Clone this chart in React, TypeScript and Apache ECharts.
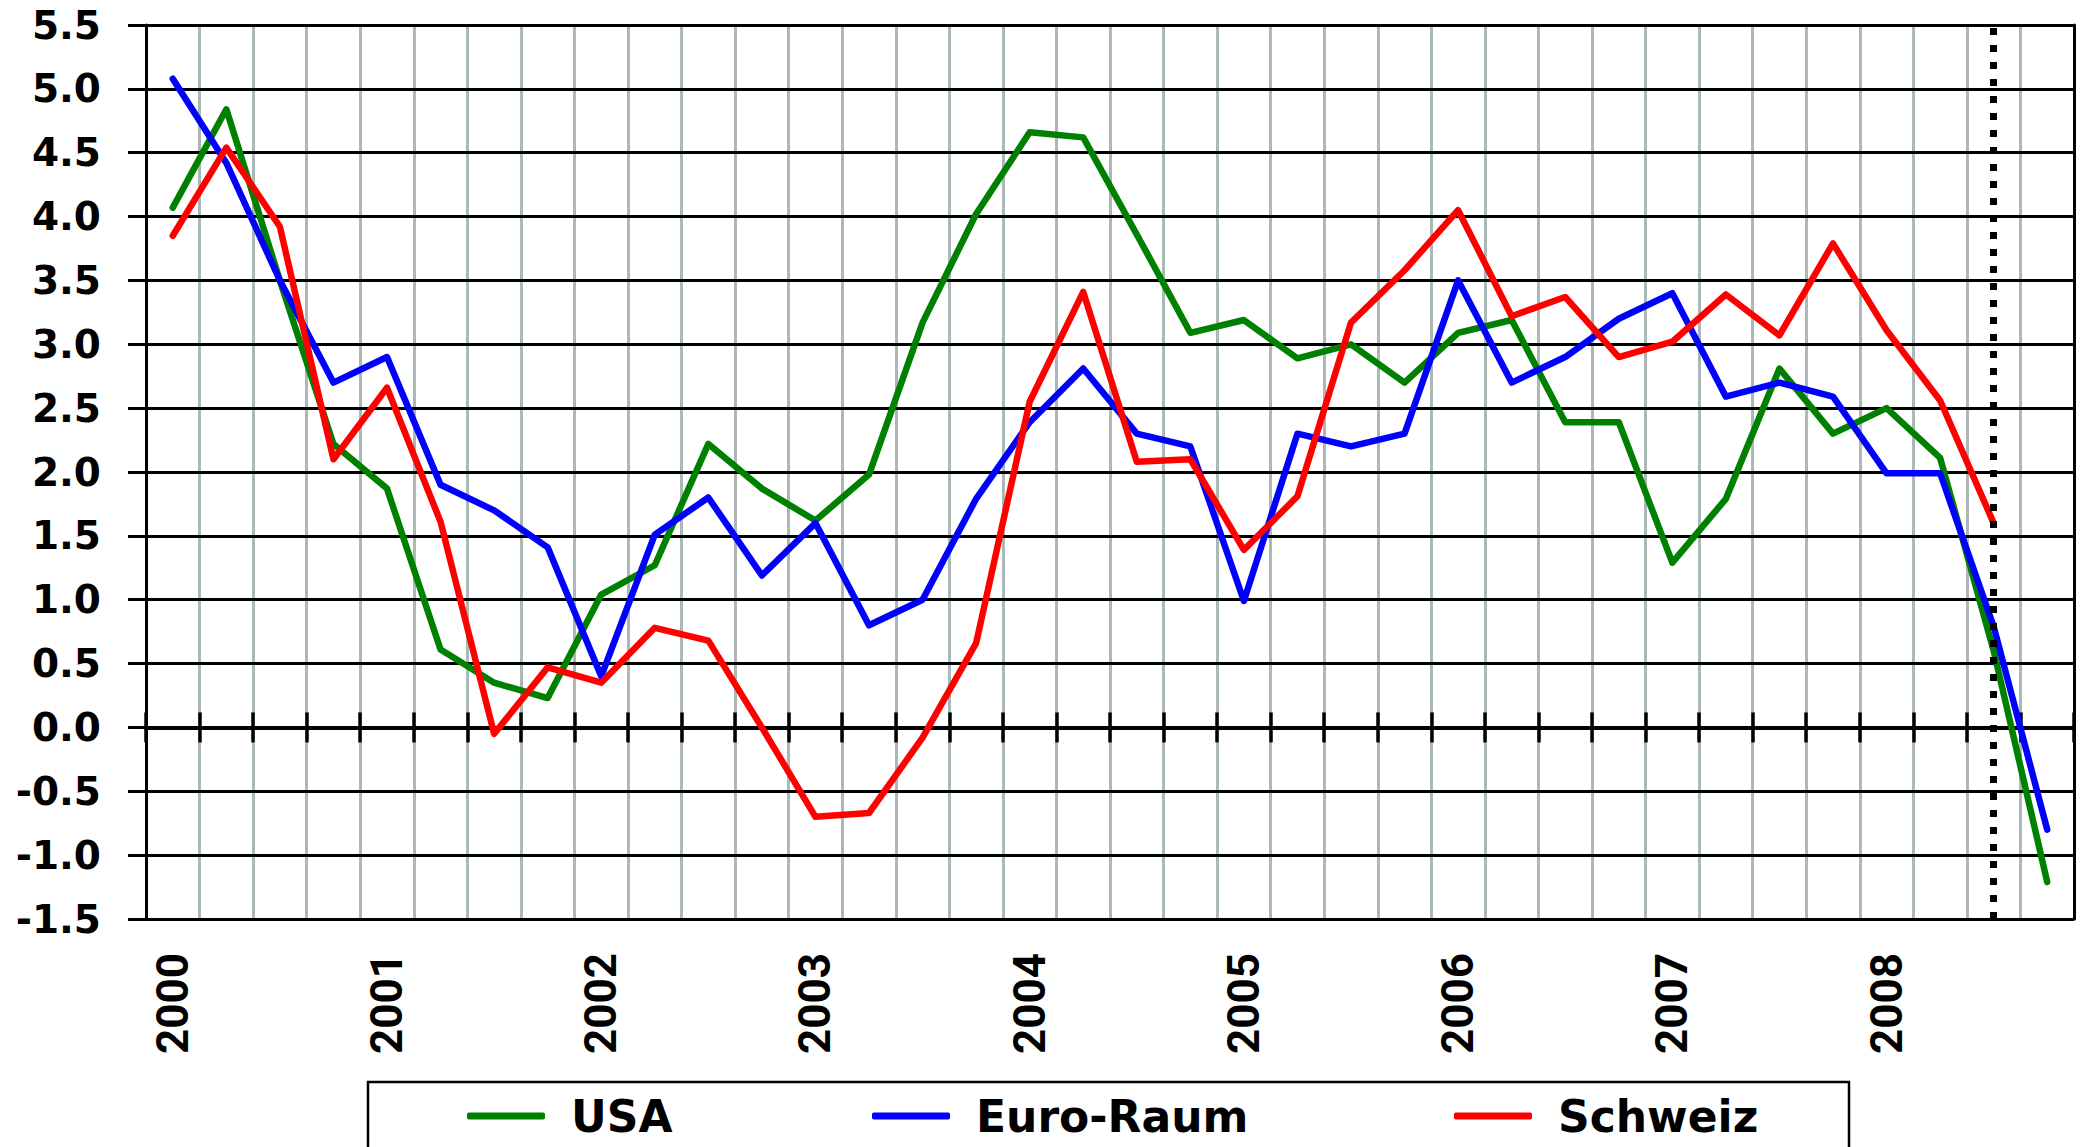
import React, { useEffect, useRef } from "react";
import * as echarts from "echarts";

const years = ["2000", "2001", "2002", "2003", "2004", "2005", "2006", "2007", "2008"];
const quarters = ["Q1", "Q2", "Q3", "Q4"];
const categories = years.flatMap((y) => quarters.map((q) => `${y} ${q}`));

const usa = [
  4.07, 4.84, 3.5, 2.22, 1.87, 0.61, 0.35, 0.23, 1.04, 1.27, 2.22, 1.87,
  1.62, 1.98, 3.17, 4.02, 4.66, 4.62, 3.86, 3.09, 3.19, 2.89, 3.0, 2.7,
  3.09, 3.19, 2.39, 2.39, 1.29, 1.79, 2.81, 2.3, 2.5, 2.11, 0.6, -1.21,
];
const euro = [
  5.08, 4.42, 3.5, 2.7, 2.9, 1.9, 1.7, 1.41, 0.4, 1.51, 1.8, 1.19,
  1.6, 0.8, 1.0, 1.79, 2.39, 2.81, 2.3, 2.2, 0.99, 2.3, 2.2, 2.3,
  3.5, 2.7, 2.9, 3.2, 3.4, 2.59, 2.7, 2.59, 1.99, 1.99, 0.79, -0.8,
];
const schweiz = [
  3.85, 4.54, 3.92, 2.1, 2.66, 1.61, -0.05, 0.47, 0.35, 0.78, 0.68, 0.0,
  -0.7, -0.67, -0.08, 0.66, 2.55, 3.41, 2.08, 2.1, 1.39, 1.81, 3.17, 3.58,
  4.05, 3.22, 3.37, 2.9, 3.02, 3.39, 3.07, 3.79, 3.11, 2.56, 1.6, null,
];
const seriesNames = ["USA", "Euro-Raum", "Schweiz"];
const seriesColors = ["#008000", "#0000ff", "#ff0000"];
const markerCategory = categories[34];

const yMin = -1.5;
const yMax = 5.5;
const yStep = 0.5;

export default function App() {
  const ref = useRef<HTMLDivElement>(null);

  useEffect(() => {
    if (!ref.current) return;
    const chart = echarts.init(ref.current, undefined, { renderer: "svg" });
    const boldDejaVu = { fontFamily: "DejaVu Sans", fontWeight: "bold" as const, color: "#000" };

    const zeroAxisBase = {
      type: "category" as const,
      data: categories,
      boundaryGap: true,
      z: 1,
      axisLine: { show: true, onZero: true, onZeroAxisIndex: 0, lineStyle: { color: "#000", width: 4 } },
      axisTick: { show: true, inside: true, interval: 0, length: 15, lineStyle: { color: "#000", width: 3.5 } },
      axisLabel: { show: false },
      splitLine: { show: false },
    };

    const legendBase = {
      top: 1094,
      padding: 0,
      selectedMode: false,
      icon: "roundRect",
      itemWidth: 78,
      itemHeight: 7,
      textStyle: { ...boldDejaVu, fontSize: 44, padding: [0, 0, 0, 21] },
    };

    const data = [usa, euro, schweiz];

    chart.setOption({
      animation: false,
      backgroundColor: "#fff",
      grid: { left: 146, right: 9, top: 25, bottom: 228, containLabel: false },
      xAxis: [
        {
          type: "category",
          data: categories,
          boundaryGap: true,
          position: "bottom",
          z: 0,
          axisLine: { show: false, onZero: false },
          axisTick: { show: false },
          axisLabel: {
            show: true,
            rotate: 90,
            margin: 34,
            interval: (index: number) => index % 4 === 0,
            formatter: (v: string) => v.slice(0, 4),
            fontFamily: "Roboto",
            fontWeight: "bold",
            fontSize: 44,
            color: "#000",
          },
          splitLine: { show: true, interval: 0, lineStyle: { color: "#aab9b6", width: 3 } },
        },
        { ...zeroAxisBase, position: "bottom" },
        { ...zeroAxisBase, position: "top", axisLine: { ...zeroAxisBase.axisLine, show: false } },
      ],
      yAxis: [
        {
          type: "value",
          min: yMin,
          max: yMax,
          interval: yStep,
          position: "left",
          z: 1,
          axisLine: { show: true, lineStyle: { color: "#000", width: 3 } },
          axisTick: { show: true, inside: false, length: 18, lineStyle: { color: "#000", width: 3 } },
          axisLabel: {
            ...boldDejaVu,
            fontSize: 39,
            margin: 45,
            formatter: (v: number) => v.toFixed(1),
          },
          splitLine: { show: true, lineStyle: { color: "#000", width: 3 } },
        },
        {
          type: "value",
          min: yMin,
          max: yMax,
          interval: yStep,
          position: "right",
          z: 1,
          axisLine: { show: true, onZero: false, lineStyle: { color: "#000", width: 3 } },
          axisTick: { show: false },
          axisLabel: { show: false },
          splitLine: { show: false },
        },
      ],
      legend: seriesNames.map((name, i) => ({
        ...legendBase,
        left: [467, 872, 1454][i],
        data: [name],
      })),
      graphic: [
        {
          type: "rect",
          shape: { x: 368, y: 1082, width: 1481, height: 120 },
          style: { fill: "none", stroke: "#000", lineWidth: 2.5 },
          silent: true,
        },
      ],
      series: [
        ...seriesNames.map((name, i) => ({
          name,
          type: "line",
          data: data[i],
          xAxisIndex: 0,
          yAxisIndex: 0,
          color: seriesColors[i],
          showSymbol: false,
          symbol: "none",
          connectNulls: false,
          z: 2 + i * 0.1,
          lineStyle: { color: seriesColors[i], width: 6.5, cap: "round", join: "round" },
        })),
        {
          name: "marker",
          type: "line",
          data: categories.map(() => null),
          xAxisIndex: 0,
          yAxisIndex: 0,
          showSymbol: false,
          symbol: "none",
          z: 5,
          markLine: {
            silent: true,
            symbol: ["none", "none"],
            label: { show: false },
            lineStyle: { color: "#000", width: 7, type: [7, 10], cap: "butt" },
            data: [{ xAxis: markerCategory }],
          },
        },
      ],
    });

    return () => chart.dispose();
  }, []);

  return (
    <div
      ref={ref}
      style={{ position: "fixed", left: 0, top: 0, width: 2083, height: 1147, background: "#fff" }}
    />
  );
}
